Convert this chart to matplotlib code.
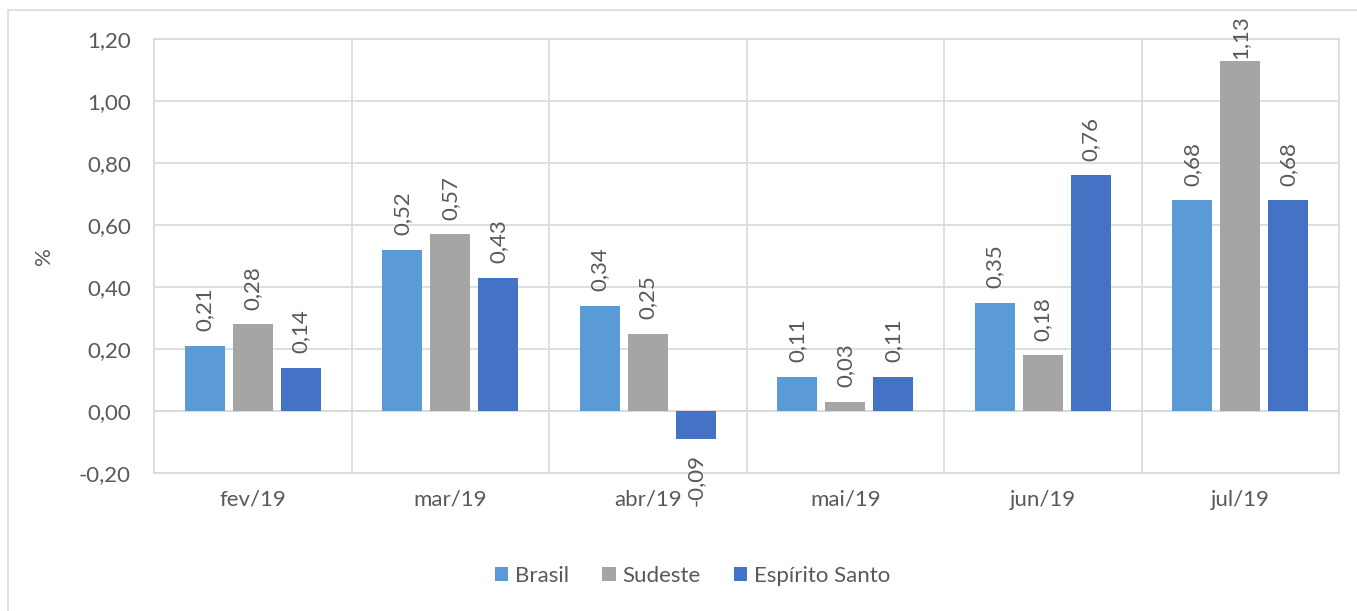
import matplotlib
matplotlib.use("Agg")
import matplotlib.pyplot as plt
import numpy as np
from matplotlib.patches import Rectangle

categories = ["fev/19", "mar/19", "abr/19", "mai/19", "jun/19", "jul/19"]
series_names = ["Brasil", "Sudeste", "Espírito Santo"]
brasil = [0.21, 0.52, 0.34, 0.11, 0.35, 0.68]
sudeste = [0.28, 0.57, 0.25, 0.03, 0.18, 1.13]
espirito_santo = [0.14, 0.43, -0.09, 0.11, 0.76, 0.68]
yticks = [-0.20, 0.00, 0.20, 0.40, 0.60, 0.80, 1.00, 1.20]

colors = ["#5B9BD5", "#A5A5A5", "#4472C4"]
text_color = "#595959"
grid_color = "#D9D9D9"
fs = 16

plt.rcParams['font.family'] = ['Lato', 'DejaVu Sans']

fig = plt.figure(figsize=(13.57, 6.11), dpi=100)
ax = fig.add_axes([154/1357, 1-473/611, (1339-154)/1357, (473-39)/611])

# outer chart border (only top and left visible)
fig.patches.append(Rectangle((8/1357, -0.1), 1.2, 1 - 10/611 + 0.1,
                             transform=fig.transFigure, fill=False,
                             edgecolor=grid_color, lw=1.2, zorder=0))

x = np.arange(len(categories))
width = 0.2025
step = 0.243
all_series = [brasil, sudeste, espirito_santo]
for i, (vals, name, col) in enumerate(zip(all_series, series_names, colors)):
    pos = x + (i - 1) * step
    ax.bar(pos, vals, width=width, color=col, label=name, zorder=3)
    for p, v in zip(pos, vals):
        lbl = f"{v:.2f}".replace(".", ",")
        if v >= 0:
            off = 10.5 if v < 1.0 else 1.5
            ax.annotate(lbl, (p, v), xytext=(0, off), textcoords="offset points",
                        rotation=90, ha="center", va="bottom",
                        fontsize=fs, color=text_color)
        else:
            ax.annotate(lbl, (p, v), xytext=(0, -11), textcoords="offset points",
                        rotation=90, ha="center", va="top",
                        fontsize=fs, color=text_color)

ax.set_xlim(-0.5, len(categories) - 0.5)
ax.set_ylim(-0.2, 1.2)
ax.set_yticks(yticks)
ax.set_yticklabels([f"{t:.2f}".replace(".", ",") for t in yticks])
ax.set_xticks(x)
ax.set_xticklabels(categories)
ax.set_xticks(np.arange(len(categories) + 1) - 0.5, minor=True)
ax.tick_params(axis="both", which="both", length=0, labelsize=fs, colors=text_color)
ax.tick_params(axis="y", pad=16.5)
ax.tick_params(axis="x", pad=12)
ax.grid(axis="y", which="major", color=grid_color, lw=1.2, zorder=0)
ax.grid(axis="x", which="minor", color=grid_color, lw=1.2, zorder=0)
ax.grid(axis="x", which="major", visible=False)
for s in ax.spines.values():
    s.set_color(grid_color)
    s.set_linewidth(1.2)
ax.axhline(0, color=grid_color, lw=1.2, zorder=2)

ax.set_ylabel("%", fontsize=fs, color=text_color)
ax.yaxis.set_label_coords(-(154-54)/1185, 0.5)

handles, labels = ax.get_legend_handles_labels()
fig.legend(handles, labels, loc="center", bbox_to_anchor=(0.5103, 1-576/611),
           ncol=3, frameon=False, fontsize=fs, handlelength=0.6, handleheight=0.6,
           handletextpad=0.3, columnspacing=1.5, labelcolor=text_color)

fig.savefig("out.png", dpi=100, facecolor="white")
